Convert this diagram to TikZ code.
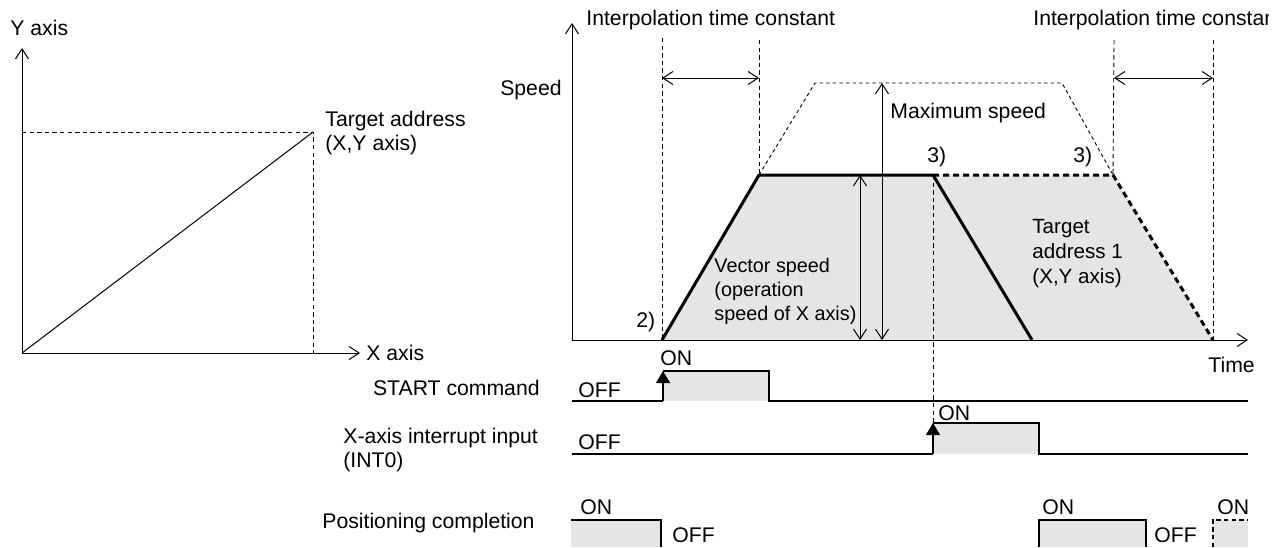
\documentclass[tikz,border=0pt]{standalone}
\usepackage{fontspec}
\setmainfont{Liberation Sans}
\usetikzlibrary{arrows.meta, positioning}

\begin{document}
\begin{tikzpicture}[x=0.5pt, y=-0.5pt,
  lbl/.style={font=\fontsize{10.6}{12.4}\selectfont, inner sep=0pt, anchor=west, align=left},
  axis/.style={-{Straight Barb[length=5pt,width=6.5pt]}, line width=0.5pt},
  span/.style={{Straight Barb[length=5pt,width=6.5pt]}-{Straight Barb[length=5pt,width=6.5pt]}, line width=0.5pt},
  guide/.style={line width=0.45pt, dash pattern=on 2.2pt off 1.6pt},
  run/.style={line width=1.5pt},
  rundash/.style={line width=1.5pt, dash pattern=on 3pt off 2pt},
  sig/.style={line width=0.6pt},
  trig/.style={-{Triangle[length=6pt,width=7pt]}, line width=0.6pt},
  pulse/.style={fill=black!10, draw=none}
]
\clip (0,0) rectangle (1283,547);

% left: path in the X-Y plane
\coordinate (xy0) at (22,353);
\coordinate (tgt) at (313,132);
\draw[axis] (xy0) -- (22,48);
\draw[axis] (xy0) -- (360,353);
\draw[guide] (22,132) -- (tgt) -- (313,353);
\draw[line width=0.5pt] (xy0) -- (tgt);
\node[lbl] (yax) at (10,28) {Y axis};
\node[lbl] (xax) at (366,353) {X axis};
\node[lbl] (tgtl) at (325,133) {Target address\\(X,Y axis)};

% right: speed profile
\coordinate (o) at (572,340);
\coordinate (s0) at (662,340);
\coordinate (s1) at (759,175);
\coordinate (s3) at (933,175);
\coordinate (s4) at (1032,340);
\coordinate (e1) at (1113,175);
\coordinate (e2) at (1213,340);
\fill[black!10] (s0) -- (s1) -- (e1) -- (e2) -- cycle;
\draw[axis] (o) -- (572,23);
\draw[axis] (o) -- (1248,340);
\node[lbl, anchor=east] (spd) at (562,90) {Speed};
\node[lbl] (time) at (1208,365) {Time};

% interpolation time constants
\draw[guide] (662,38) -- (s0);
\draw[guide] (759,40) -- (s1);
\draw[span] (662,78) -- (759,78);
\node[lbl] (itc1) at (586,20) {Interpolation time constant};
\draw[guide] (1114,40) -- (e1);
\draw[guide] (1213,40) -- (e2);
\draw[span] (1114,78) -- (1213,78);
\begin{scope}
  \clip (1000,0) rectangle (1268,40);
  \node[lbl] (itc2) at (1033,20) {Interpolation time constant};
\end{scope}

% maximum speed outline
\draw[guide, dash pattern=on 1.8pt off 1.5pt] (s1) -- (815,83) -- (1062,83) -- (e1);
\draw[span] (882,83) -- (882,340);
\node[lbl] (maxl) at (890,113) {Maximum speed};
\draw[span] (860,175) -- (860,340);

% operation
\draw[run, line join=round] (s0) -- (s1) -- (s3) -- (s4);
\draw[rundash] (s3) -- (e1) -- (e2);
\draw[guide] (s3) -- (933,423);
\node[lbl] (p3a) at (927,157) {3)};
\node[lbl] (p3b) at (1073,157) {3)};
\node[lbl] (p2) at (636,322) {2)};
\node[lbl, font=\fontsize{9.9}{12}\selectfont] (vsp) at (714,291) {Vector speed\\(operation\\speed of X axis)};
\node[lbl, font=\fontsize{10.3}{12.5}\selectfont] (ta1) at (1032,254) {Target\\address 1\\(X,Y axis)};

% START command
\fill[pulse] (663,371) rectangle (769,401);
\draw[sig] (572,401) -- (663,401);
\draw[trig] (663,401) -- (663,371);
\draw[sig] (663,371) -- (769,371) -- (769,401) -- (1248,401);
\node[lbl] (on1) at (660,358) {ON};
\node[lbl] (off1) at (578,390) {OFF};
\node[lbl, anchor=east] (startl) at (540,388) {START command};

% X-axis interrupt input
\fill[pulse] (933,423) rectangle (1039,454);
\draw[sig] (572,454) -- (933,454);
\draw[trig] (933,454) -- (933,423);
\draw[sig] (933,423) -- (1039,423) -- (1039,454) -- (1248,454);
\node[lbl] (on2) at (938,413) {ON};
\node[lbl] (off2) at (578,442) {OFF};
\node[lbl] (intl) at (343,450) {X-axis interrupt input\\(INT0)};

% positioning completion
\fill[pulse] (571,520) rectangle (661,547);
\draw[sig] (571,520) -- (661,520) -- (661,547);
\fill[pulse] (1039,520) rectangle (1146,547);
\draw[sig] (1039,547) -- (1039,520) -- (1146,520) -- (1146,547);
\fill[pulse] (1213,520) rectangle (1248,547);
\draw[sig, dash pattern=on 2.2pt off 1.6pt] (1213,547) -- (1213,520) -- (1248,520);
\node[lbl] (on3) at (580,507) {ON};
\node[lbl] (off3) at (672,535) {OFF};
\node[lbl] (on4) at (1042,507) {ON};
\node[lbl] (off4) at (1154,535) {OFF};
\node[lbl] (on5) at (1217,507) {ON};
\node[lbl] (posl) at (322,523) {Positioning completion};
\end{tikzpicture}
\end{document}
